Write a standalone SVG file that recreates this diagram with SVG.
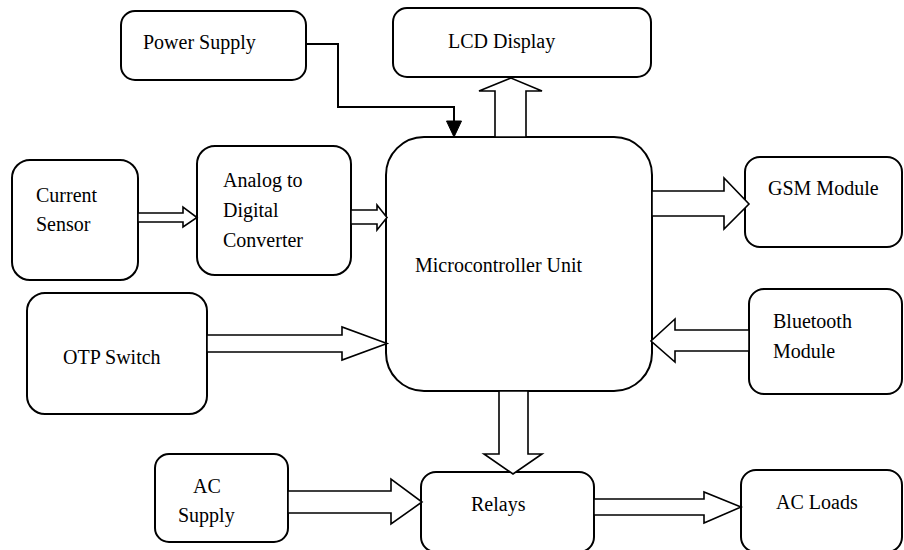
<svg xmlns="http://www.w3.org/2000/svg" width="904" height="550" viewBox="0 0 904 550">
<style>
.box{fill:#fff;stroke:#000;stroke-width:2}
.arr{fill:#fff;stroke:#000;stroke-width:1.6;stroke-linejoin:miter}
.ln{fill:none;stroke:#000;stroke-width:2}
.t{font-family:'Liberation Serif','Times New Roman',Times,Tinos,'Noto Serif','DejaVu Serif',FreeSerif,serif;font-size:20px;fill:#000}
</style>
<rect width="904" height="550" fill="#fff"/>
<g id="power-supply"><rect class="box" x="121" y="11" width="185" height="69" rx="14"/><text class="t" x="143" y="49">Power Supply</text></g>
<g id="lcd-display"><rect class="box" x="393" y="8" width="258" height="69" rx="14"/><text class="t" x="448" y="48">LCD Display</text></g>
<g id="current-sensor"><rect class="box" x="12" y="160" width="126" height="120" rx="18"/><text class="t" x="36" y="202">Current</text><text class="t" x="36" y="231">Sensor</text></g>
<g id="adc"><rect class="box" x="197" y="146" width="154" height="129" rx="18"/><text class="t" x="223" y="187">Analog to</text><text class="t" x="223" y="217">Digital</text><text class="t" x="223" y="247">Converter</text></g>
<g id="mcu"><rect class="box" x="386" y="137" width="266" height="254" rx="38"/><text class="t" x="415" y="272">Microcontroller Unit</text></g>
<g id="gsm"><rect class="box" x="745" y="157" width="157" height="90" rx="15"/><text class="t" x="768" y="195">GSM Module</text></g>
<g id="bluetooth"><rect class="box" x="749" y="289" width="153" height="105" rx="15"/><text class="t" x="773" y="328">Bluetooth</text><text class="t" x="773" y="358">Module</text></g>
<g id="otp-switch"><rect class="box" x="27" y="293" width="180" height="121" rx="18"/><text class="t" x="63" y="364">OTP Switch</text></g>
<g id="ac-supply"><rect class="box" x="155" y="454" width="133" height="88" rx="14"/><text class="t" x="193" y="493">AC</text><text class="t" x="178" y="522">Supply</text></g>
<g id="relays"><rect class="box" x="421" y="472" width="173" height="80" rx="15"/><text class="t" x="471" y="511">Relays</text></g>
<g id="ac-loads"><rect class="box" x="741" y="470" width="161" height="82" rx="15"/><text class="t" x="776" y="509">AC Loads</text></g>
<g id="connectors">
<polyline class="ln" points="306,44 338,44 338,107 454,107 454,122"/>
<polygon points="446.5,121 461.5,121 454,137" fill="#000" stroke="#000" stroke-width="1"/>
<polygon class="arr" points="138,213 183,213 183,207 197,217.5 183,227 183,222 138,222"/>
<polygon class="arr" points="351,210 377,210 377,205 387,217.5 377,230 377,224 351,224"/>
<polygon class="arr" points="495,137 495,91 479,91 511,78 542,91 526,91 526,137"/>
<polygon class="arr" points="652,191 724,191 724,178 749,204 724,229 724,216 652,216"/>
<polygon class="arr" points="749,330 675,330 675,319 651,341 675,362 675,351 749,351"/>
<polygon class="arr" points="207,335 342,335 342,327 387,343.5 342,360 342,352 207,352"/>
<polygon class="arr" points="499,391 499,454 484,454 513,474 542,454 528,454 528,391"/>
<polygon class="arr" points="288,491 391,491 391,479 422,502 391,524 391,513 288,513"/>
<polygon class="arr" points="594,499 704,499 704,492 741,507 704,523 704,515 594,515"/>
</g>
</svg>
